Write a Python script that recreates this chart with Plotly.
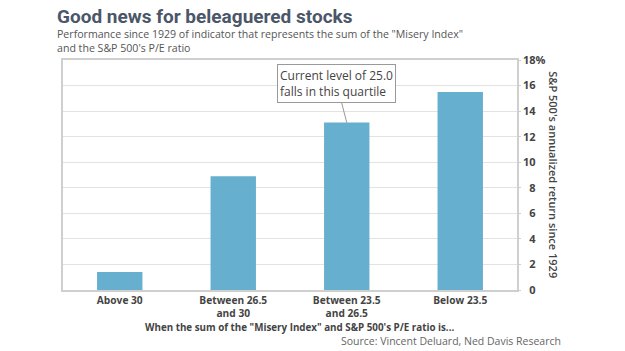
import plotly.graph_objects as go

categories = ["Above 30", "Between 26.5<br>and 30", "Between 23.5<br>and 26.5", "Below 23.5"]
returns = [1.4, 8.9, 13.1, 15.5]
tick_vals = [0, 2, 4, 6, 8, 10, 12, 14, 16, 18]
tick_text = ["\u20070", "\u20072", "\u20074", "\u20076", "\u20078", "10", "12", "14", "16", "18%"]

title_text = "Good news for beleaguered stocks"
subtitle_text = ("Performance since 1929 of indicator that represents the sum of the \"Misery Index\"<br>"
                 "and the S&P 500's P/E ratio")
x_title = "When the sum of the \"Misery Index\" and S&P 500's P/E ratio is..."
y_title = "S&P 500's annualized return since 1929"
source_text = "Source: Vincent Deluard, Ned Davis Research"
callout_text = "Current level of 25.0<br>falls in this quartile"
callout_index = 2

fig = go.Figure()
fig.add_trace(go.Bar(
    x=categories, y=returns,
    marker=dict(color="#66AFCF", line=dict(width=0)),
    width=0.4,
))

fig.update_layout(
    width=625, height=351,
    margin=dict(l=63, r=108, t=60, b=61),
    paper_bgcolor="white", plot_bgcolor="white",
    showlegend=False,
    font=dict(family="Open Sans", color="#444"),
)
fig.update_xaxes(
    showline=True, linecolor="#cfcfcf", linewidth=1.5, mirror=True,
    showgrid=False, ticks="",
    tickfont=dict(family="Open Sans", size=10.2, color="#444", weight="bold"),
)
fig.update_yaxes(
    side="right", range=[0, 18], tickvals=tick_vals, ticktext=tick_text,
    showline=True, linecolor="#cfcfcf", linewidth=1.5, mirror=True,
    showgrid=True, gridcolor="#e3e3e3", gridwidth=1,
    ticks="outside", ticklen=2, tickcolor="#cfcfcf",
    tickfont=dict(family="Open Sans", size=11, color="#444", weight="bold"),
    zeroline=False,
)

fig.add_annotation(text="<b>" + title_text + "</b>", xref="paper", yref="paper",
                   x=-0.0176, y=1.187, xanchor="left", yanchor="middle", showarrow=False,
                   font=dict(family="Roboto", size=19, color="#4B5669"))
fig.add_annotation(text=subtitle_text, xref="paper", yref="paper",
                   x=-0.0176, y=1.083, xanchor="left", yanchor="middle", align="left",
                   showarrow=False, font=dict(family="Open Sans", size=10.6, color="#555"))
fig.add_annotation(text=y_title, xref="paper", yref="paper", x=1.081, y=0.5,
                   textangle=90, showarrow=False, xanchor="center", yanchor="middle",
                   font=dict(family="Open Sans", size=11, color="#444", weight=600))
fig.add_annotation(text=x_title, xref="paper", yref="paper", x=0.52, y=(290 - 327) / 230,
                   showarrow=False, xanchor="center", yanchor="middle",
                   font=dict(family="Open Sans", size=9.8, color="#444", weight="bold"))
fig.add_annotation(text=source_text, xref="paper", yref="paper", x=1.101, y=(290 - 341) / 230,
                   showarrow=False, xanchor="right", yanchor="middle",
                   font=dict(family="Open Sans", size=10.5, color="#666"))
fig.add_annotation(text=callout_text, x=categories[callout_index], y=returns[callout_index],
                   xref="x", yref="y", ax=-10, ay=-39, showarrow=True, arrowhead=0,
                   arrowcolor="#999", arrowwidth=1, bordercolor="#999", borderwidth=1,
                   borderpad=2, bgcolor="white", align="left",
                   font=dict(family="Open Sans", size=12, color="#444"))

fig.write_html("out.html")
